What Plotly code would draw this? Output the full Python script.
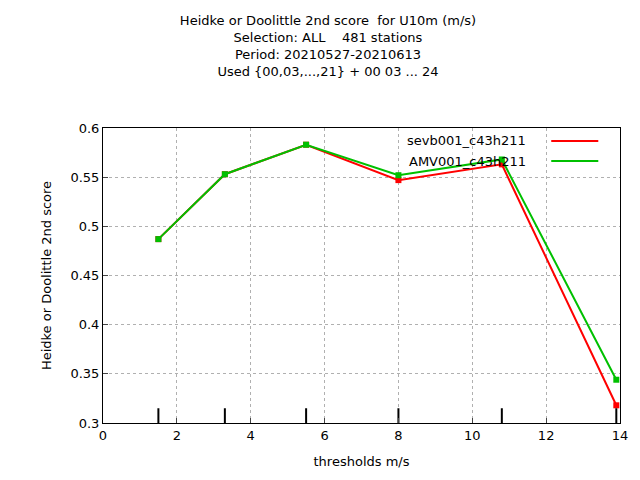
import plotly.graph_objects as go

thresholds = [1.5, 3.3, 5.5, 8.0, 10.8, 13.9]
sevb = [0.487, 0.553, 0.583, 0.547, 0.563, 0.318]
amv = [0.487, 0.553, 0.583, 0.552, 0.568, 0.344]
names = ["sevb001_c43h211", "AMV001_c43h211"]
colors = ["#ff0000", "#00c000"]

fig = go.Figure()
for name, ys, c in zip(names, [sevb, amv], colors):
    fig.add_trace(go.Scatter(x=thresholds, y=ys, mode="lines+markers", name=name,
                             line=dict(color=c, width=2),
                             marker=dict(color=c, size=6, symbol="square")))

# small tick marks at threshold positions
for t in thresholds:
    fig.add_trace(go.Scatter(x=[t, t], y=[0.3, 0.315], mode="lines",
                             line=dict(color="black", width=2), showlegend=False))

# gnuplot-style legend: text then line sample
for i, (name, c) in enumerate(zip(names, colors)):
    yy = 0.956 - i * 0.068
    fig.add_annotation(x=0.822, y=yy, xref="paper", yref="paper", text=name,
                       showarrow=False, xanchor="right", yanchor="middle",
                       font=dict(size=13, color="black"))
    fig.add_shape(type="line", xref="paper", yref="paper", x0=0.867, x1=0.958, y0=yy, y1=yy,
                  line=dict(color=c, width=2))

fig.update_layout(
    width=640, height=480, showlegend=False,
    paper_bgcolor="white", plot_bgcolor="white",
    font=dict(family="DejaVu Sans", size=13, color="black"),
    margin=dict(l=95, r=28, t=120, b=65, autoexpand=False),
    title=dict(text="Heidke or Doolittle 2nd score  for U10m (m/s)<br>Selection: ALL    481 stations<br>"
                    "Period: 20210527-20210613<br>Used {00,03,...,21} + 00 03 ... 24",
               x=0.5, y=0.965, xanchor="center", yanchor="top", font=dict(size=13)),
)
fig.update_xaxes(range=[0, 14], dtick=2, showline=True, mirror=True, linecolor="black",
                 showgrid=True, gridcolor="#b0b0b0", griddash="dot", ticks="inside",
                 zeroline=False, title=dict(text="thresholds m/s", font=dict(size=13)))
fig.update_yaxes(range=[0.3, 0.6], tickvals=[0.3, 0.35, 0.4, 0.45, 0.5, 0.55, 0.6],
                 ticktext=["0.3", "0.35", "0.4", "0.45", "0.5", "0.55", "0.6"],
                 showline=True, mirror=True, linecolor="black",
                 showgrid=True, gridcolor="#b0b0b0", griddash="dot", ticks="inside",
                 zeroline=False, title=dict(text="Heidke or Doolittle 2nd score", font=dict(size=13)))

fig.write_html("out.html")
